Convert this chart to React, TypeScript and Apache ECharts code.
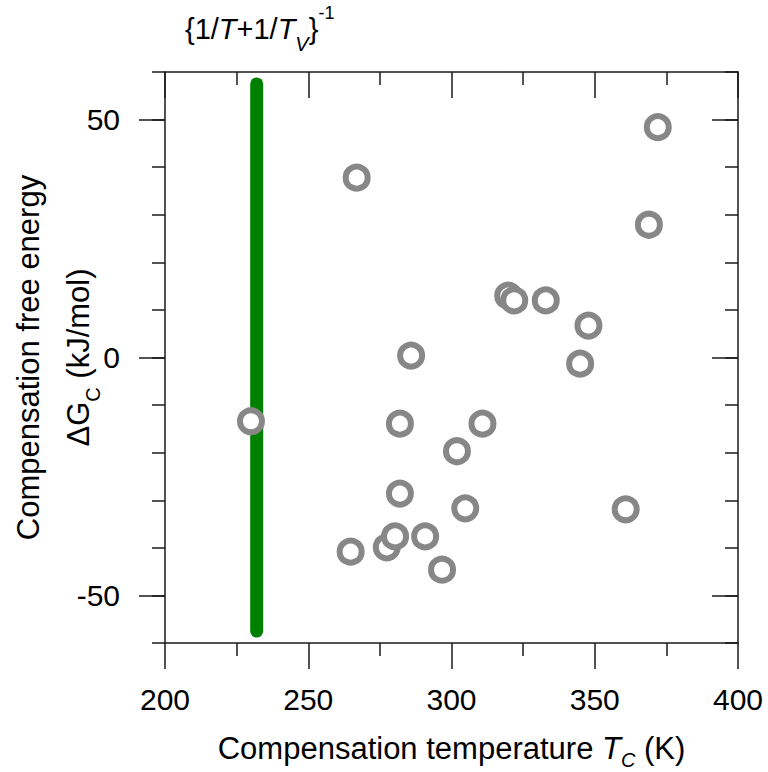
import React, { useEffect, useRef } from "react";
import * as echarts from "echarts";

// Compensation temperature T_C (K)
const TC = [230.0, 266.9, 285.9, 282.0, 310.8, 301.9, 282.0, 304.8, 277.4, 280.3, 290.8, 264.8, 296.7, 372.0, 368.9, 319.8, 321.9, 332.9, 347.8, 344.9, 360.8];
// Compensation free energy ΔG_C (kJ/mol)
const DG = [-13.4, 37.8, 0.4, -13.9, -13.9, -19.7, -28.6, -31.7, -39.9, -37.6, -37.6, -40.8, -44.6, 48.4, 27.9, 13.0, 12.0, 12.0, 6.7, -1.3, -31.9];

// {1/T + 1/T_V}^-1 reference line
const TV_LINE_X = 232;
const TV_LINE_Y = [-57.5, 57.5];

const X_MIN = 200, X_MAX = 400, X_STEP = 50;
const Y_MIN = -60, Y_MAX = 60, Y_STEP = 10;
const Y_MAJOR = [-50, 0, 50];

const FONT = "'Liberation Sans', Arial, Helvetica, sans-serif";
const AXIS_COLOR = "#1a1a1a";

export default function App() {
  const ref = useRef<HTMLDivElement>(null);
  useEffect(() => {
    if (!ref.current) return;
    const chart = echarts.init(ref.current, undefined, { renderer: "svg" });
    const lineStyle = { color: AXIS_COLOR, width: 1.5 };
    const baseX = (pos: "bottom" | "top", inside: boolean, labels: boolean) => ({
      type: "value",
      position: pos,
      min: X_MIN,
      max: X_MAX,
      interval: X_STEP,
      axisLine: { show: true, onZero: false, lineStyle },
      axisTick: { show: true, inside, length: 26, lineStyle },
      minorTick: { show: true, splitNumber: 2, length: 13, lineStyle },
      splitLine: { show: false },
      minorSplitLine: { show: false },
      axisLabel: {
        show: labels,
        fontSize: 30,
        fontFamily: FONT,
        color: "#000",
        margin: 41,
      },
    });
    const baseY = (pos: "left" | "right", inside: boolean, major: boolean, labels: boolean) => ({
      type: "value",
      position: pos,
      min: Y_MIN,
      max: Y_MAX,
      interval: Y_STEP,
      axisLine: { show: !major, onZero: false, lineStyle },
      axisTick: major
        ? { show: true, inside, length: 26, lineStyle, customValues: Y_MAJOR }
        : { show: true, inside, length: 13, lineStyle },
      splitLine: { show: false },
      axisLabel: labels
        ? {
            show: true,
            customValues: Y_MAJOR,
            fontSize: 30,
            fontFamily: FONT,
            color: "#000",
            margin: 45,
          }
        : { show: false },
    });

    const xBottom: any = baseX("bottom", false, true);
    xBottom.name = "Compensation temperature {i|T}{sub|C} (K)";
    xBottom.nameLocation = "middle";
    xBottom.nameGap = 83;
    xBottom.nameMoveOverlap = false;
    xBottom.nameTextStyle = {
      fontSize: 31,
      fontFamily: FONT,
      color: "#000",
      lineHeight: 44,
      rich: {
        i: { fontSize: 31, fontFamily: FONT, fontStyle: "italic", color: "#000", lineHeight: 44 },
        sub: { fontSize: 20, fontFamily: FONT, fontStyle: "italic", color: "#000", lineHeight: 6, verticalAlign: "bottom" },
      },
    };

    const yLeft: any = baseY("left", false, false, true);
    yLeft.name = "Compensation free energy\nΔG{sub|C} (kJ/mol)";
    yLeft.nameLocation = "middle";
    yLeft.nameRotate = 90;
    yLeft.nameGap = 62;
    yLeft.nameMoveOverlap = false;
    yLeft.nameTextStyle = {
      fontSize: 31,
      fontFamily: FONT,
      color: "#000",
      lineHeight: 50,
      align: "center",
      rich: {
        sub: { fontSize: 20, fontFamily: FONT, color: "#000", lineHeight: 36, verticalAlign: "bottom" },
      },
    };

    chart.setOption({
      animation: false,
      grid: { left: 165, right: 30, top: 72, bottom: 129, containLabel: false, outerBoundsMode: "none" },
      xAxis: [xBottom, baseX("top", true, false)],
      yAxis: [
        yLeft,
        baseY("left", false, true, false),
        baseY("right", true, false, false),
        baseY("right", true, true, false),
      ],
      series: [
        {
          type: "line",
          xAxisIndex: 0,
          yAxisIndex: 0,
          data: [
            [TV_LINE_X, TV_LINE_Y[0]],
            {
              value: [TV_LINE_X, TV_LINE_Y[1]],
              label: {
                show: true,
                position: "top",
                distance: 29,
                offset: [3, 0],
                formatter: "{1/{i|T}+1/{i|T}{sub|V}}{sup|-1}",
                fontSize: 29,
                fontFamily: FONT,
                color: "#000",
                lineHeight: 50,
                rich: {
                  i: { fontSize: 29, fontFamily: FONT, fontStyle: "italic", color: "#000", lineHeight: 50 },
                  sub: { fontSize: 20, fontFamily: FONT, fontStyle: "italic", color: "#000", lineHeight: 15, verticalAlign: "bottom" },
                  sup: { fontSize: 18, fontFamily: FONT, color: "#000", lineHeight: 36, verticalAlign: "top" },
                },
              },
            },
          ],
          symbol: "circle",
          symbolSize: 1,
          itemStyle: { color: "#008000" },
          lineStyle: { color: "#008000", width: 13, cap: "round" },
          z: 2,
        },
        {
          type: "scatter",
          xAxisIndex: 0,
          yAxisIndex: 0,
          data: TC.map((t, i) => [t, DG[i]]),
          symbol: "circle",
          symbolSize: 22,
          itemStyle: { color: "#ffffff", borderColor: "#878787", borderWidth: 6, opacity: 1 },
          z: 3,
        },
      ],
    });
    return () => chart.dispose();
  }, []);
  return (
    <div
      ref={ref}
      style={{ position: "fixed", left: 0, top: 0, width: 768, height: 772, background: "#fff" }}
    />
  );
}
